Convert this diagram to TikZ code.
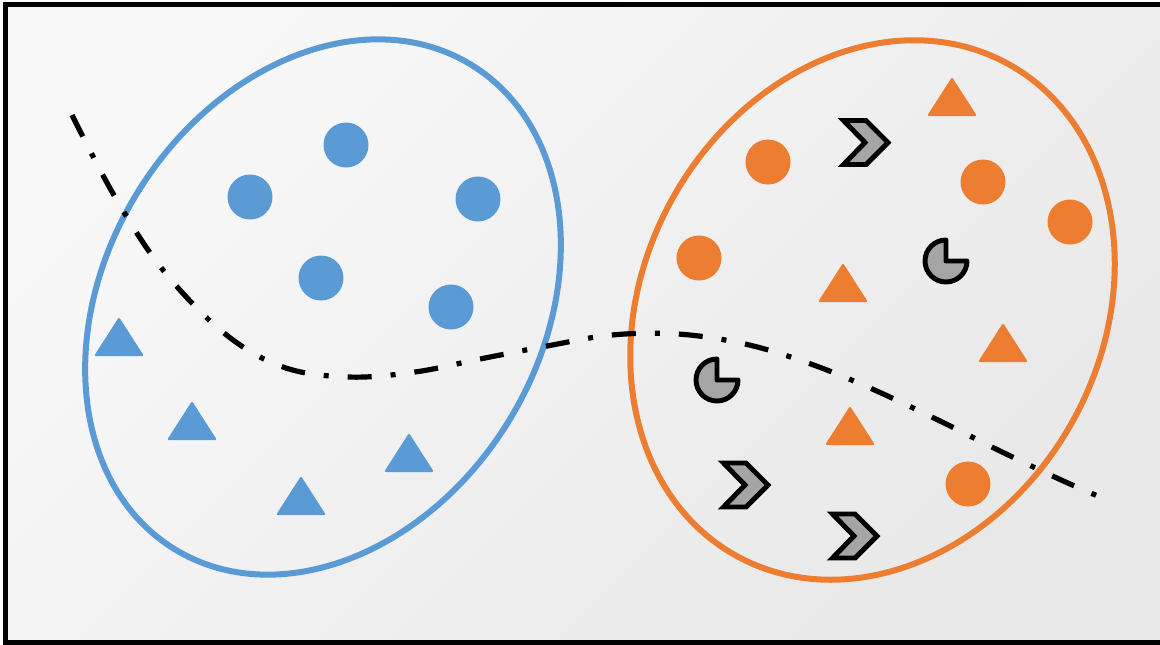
\documentclass[tikz,border=0pt]{standalone}
\definecolor{ublue}{HTML}{5B9BD5}
\definecolor{uorange}{HTML}{ED7D31}
\definecolor{ugray}{HTML}{A5A5A5}
\definecolor{bgA}{HTML}{F8F8F8}
\definecolor{bgB}{HTML}{E8E8E8}
\tikzset{
  ring/.style={line width=4.5pt},
  dashdotline/.style={line width=3.9pt, dash pattern=on 18pt off 14.25pt on 3.75pt off 14.25pt},
  pics/tri/.style={code={\fill[#1, rounded corners=1.5pt] (0,-20) -- (25,19) -- (-25,19) -- cycle;}},
  pics/chev/.style={code={\filldraw[fill=ugray, draw=black, line width=3.7pt, miter limit=10]
      (-21,-22) -- (1.5,-22) -- (23.5,0) -- (1.5,22) -- (-21,22) -- (0.5,0) -- cycle;}},
  pics/pie/.style={code={\filldraw[fill=ugray, draw=black, line width=3.7pt, line join=round]
      (0,0) -- (0,-21) arc[start angle=270, end angle=0, radius=21] -- cycle;}},
}
\begin{document}
\begin{tikzpicture}[x=0.75pt,y=-0.75pt]
\useasboundingbox (0,0) rectangle (1160,644);
\fill[white] (0,0) rectangle (1160,644);
\shade[top color=bgA, bottom color=bgB, shading angle=45] (5.5,4.5) rectangle (1175,642);

% ellipses
\draw[ring, ublue, rotate around={58.5:(323,307)}] (323,307) ellipse [x radius=284, y radius=218];
\draw[ring, uorange, rotate around={61:(872.5,310)}] (872.5,310) ellipse [x radius=281, y radius=229];

% blue dots
\foreach \p in {(346,145),(250,197),(478,199),(321,278),(451,307)}
  \fill[ublue] \p circle [radius=22.5];
% blue triangles
\pic at (119,337) {tri=ublue};
\pic at (192,421) {tri=ublue};
\pic at (301,496) {tri=ublue};
\pic at (409,453) {tri=ublue};

% orange dots
\foreach \p in {(768,162),(983,182),(1070,222),(699,258),(968,484)}
  \fill[uorange] \p circle [radius=22.5];
% orange triangles
\pic at (952,97) {tri=uorange};
\pic at (843,283) {tri=uorange};
\pic at (1003,343) {tri=uorange};
\pic at (850,426) {tri=uorange};

% gray shapes
\pic at (864.5,142.5) {chev};
\pic at (744.5,485) {chev};
\pic at (853.5,536) {chev};
\pic at (946,261) {pie};
\pic at (717,380) {pie};

% dash-dot boundary
\draw[dashdotline] plot[smooth, tension=0.6] coordinates {
 (72,115) (115,197) (163,270) (224,333) (283,367) (348,377) (415,372) (480,359)
 (547,346) (612,335) (678,334) (745,344) (808,363) (870,388) (938,420) (998,450)
 (1059,479) (1100,497)};

% frame
\draw[line width=3.75pt] (5.5,4.5) rectangle (1175,642);
\end{tikzpicture}
\end{document}
